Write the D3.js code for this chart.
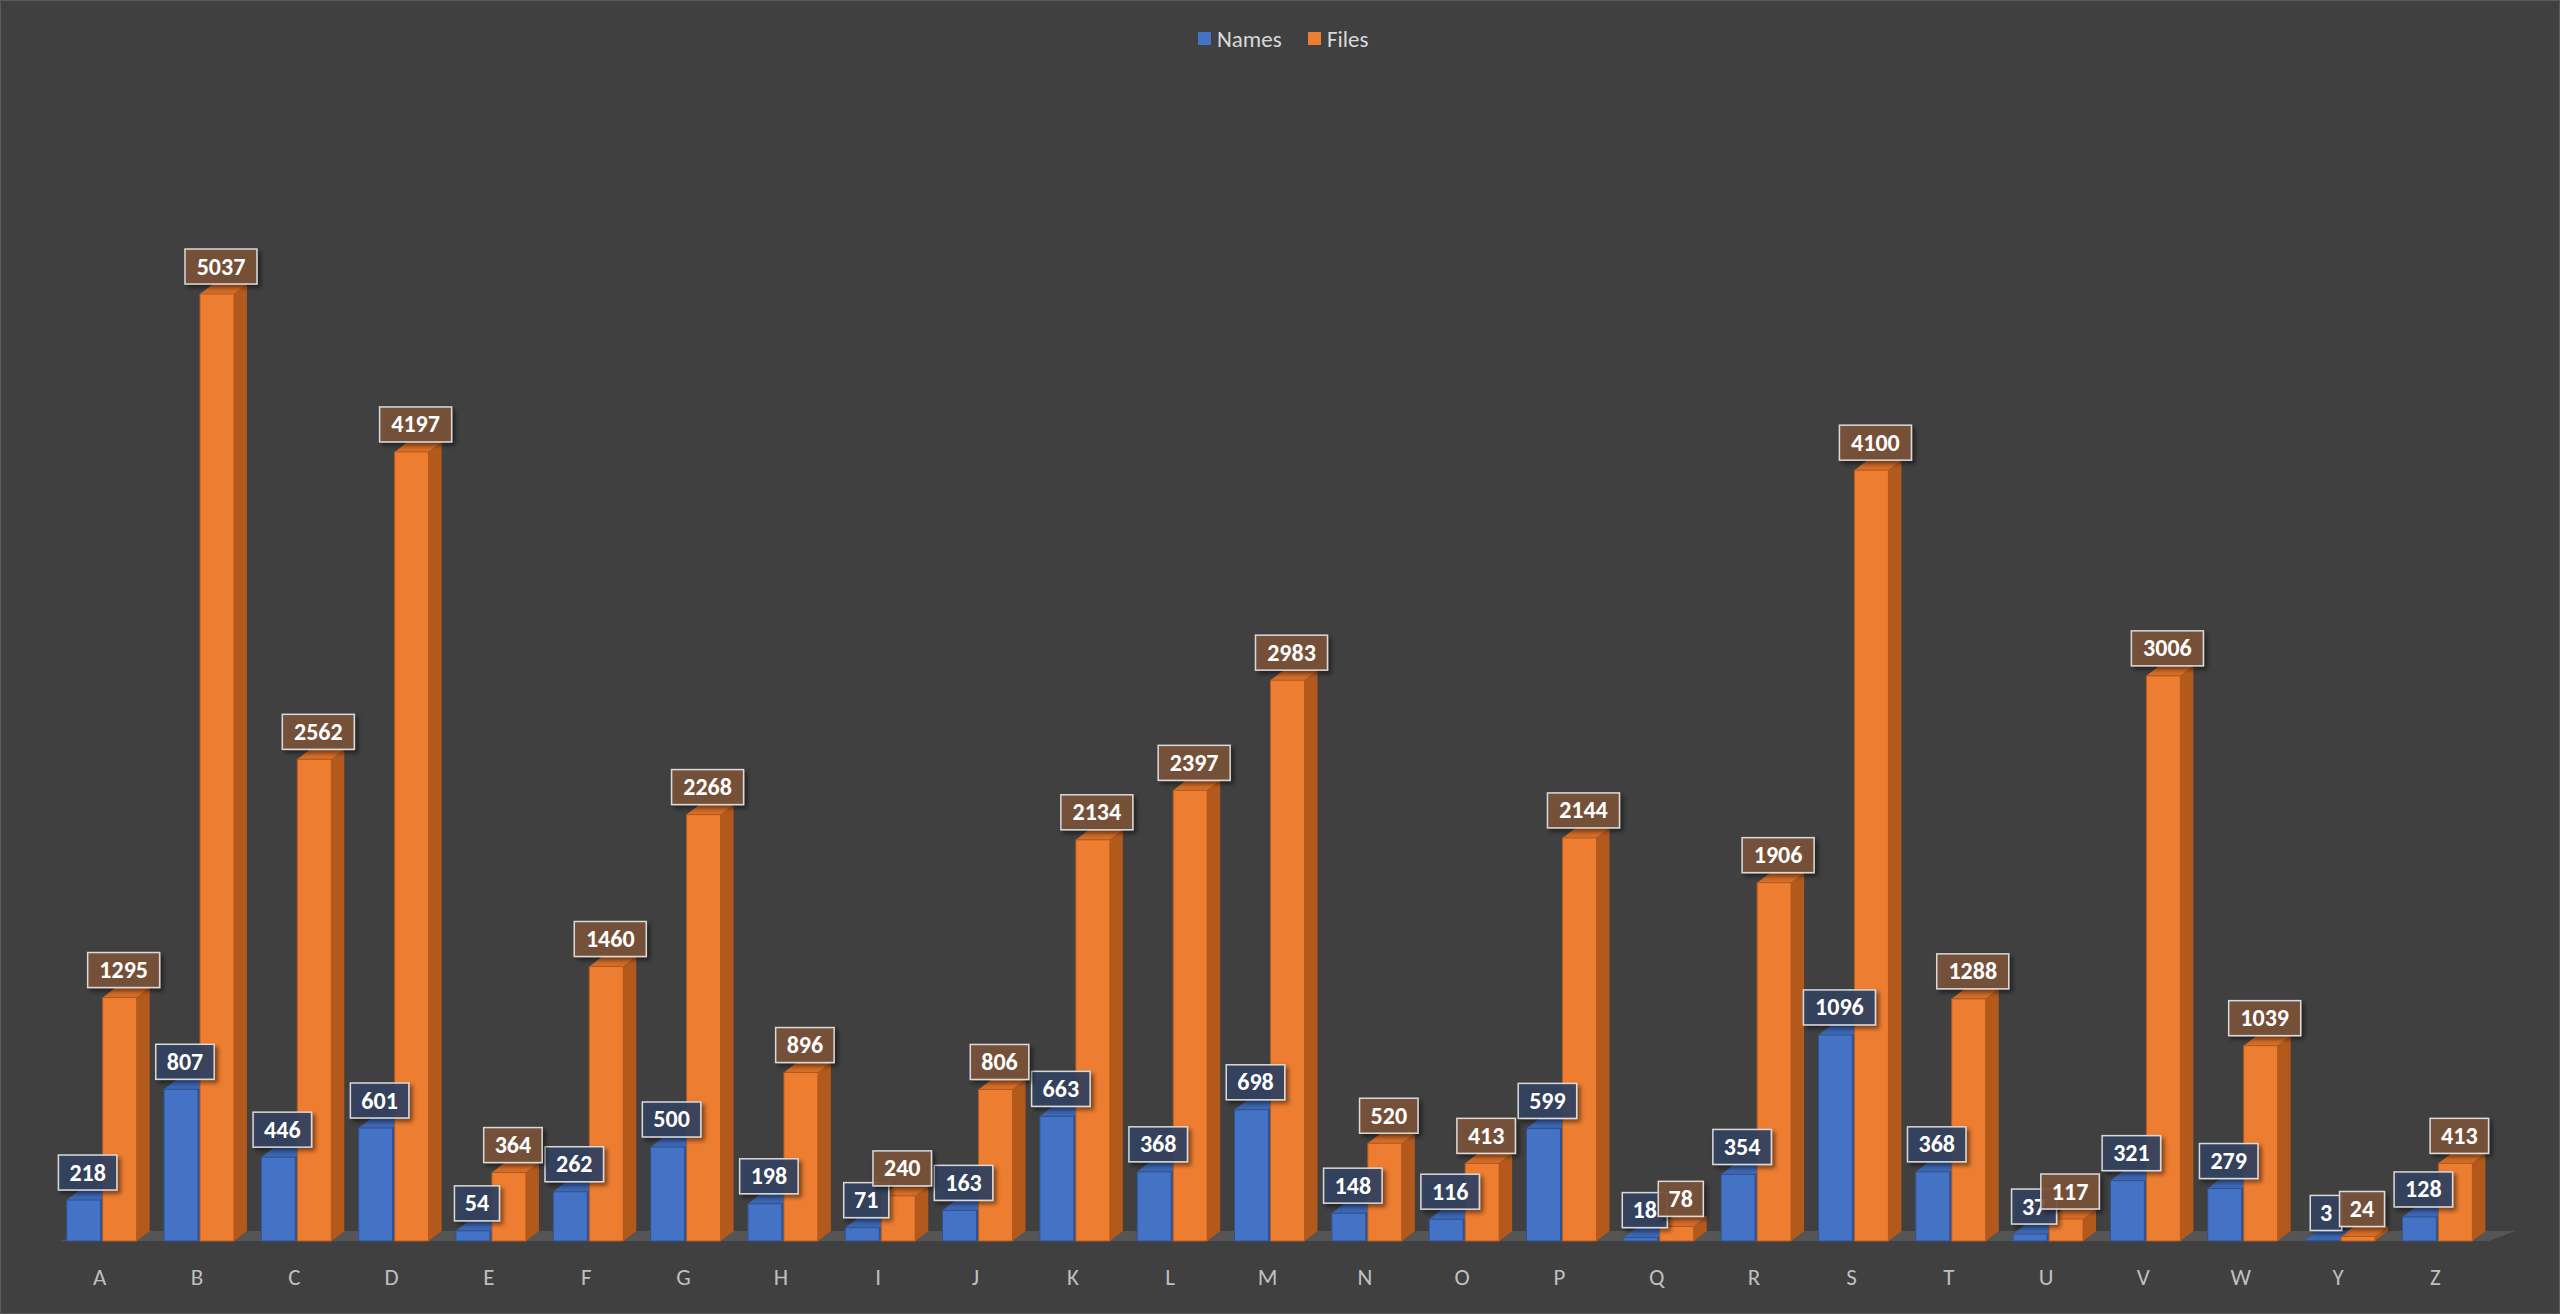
<!DOCTYPE html>
<html><head><meta charset="utf-8">
<script src="https://cdn.jsdelivr.net/npm/d3@7"></script>
<style>body{margin:0;background:#404040;overflow:hidden}</style>
</head><body><svg id="c" width="2560" height="1314"></svg>
<script>
var letters = ["A","B","C","D","E","F","G","H","I","J","K","L","M","N","O","P","Q","R","S","T","U","V","W","Y","Z"];
var names = [218,807,446,601,54,262,500,198,71,163,663,368,698,148,116,599,18,354,1096,368,37,321,279,3,128];
var files = [1295,5037,2562,4197,364,1460,2268,896,240,806,2134,2397,2983,520,413,2144,78,1906,4100,1288,117,3006,1039,24,413];
var series = [
	{name: "Names", values: names, front: "#4472c4", side: "#2e5293", top: "#3d67b4", box: "rgba(52,66,96,0.92)"},
	{name: "Files", values: files, front: "#ed7d31", side: "#b4591c", top: "#d66d27", box: "rgba(122,82,58,0.92)"}
];

var svg = d3.select("#c");
svg.append("rect").attr("x",0.5).attr("y",0.5).attr("width",2559).attr("height",1313)
	.attr("fill","#404040").attr("stroke","#5a5a5a");

var defs = svg.append("defs");
var f = defs.append("filter").attr("id","sh").attr("x","-20%").attr("y","-20%").attr("width","150%").attr("height","150%");
f.append("feDropShadow").attr("dx",3).attr("dy",3).attr("stdDeviation",2).attr("flood-color","#000").attr("flood-opacity",0.5);

var baseY = 1241, depthX = 13, depthY = 10, barW = 34;
var x = d3.scaleBand().domain(letters).range([51, 2484]);
var y = d3.scaleLinear().domain([0, 5037]).range([baseY, 294]);

// floor
svg.append("path")
	.attr("d", "M" + (x.range()[0]+10) + "," + baseY + "L" + (x.range()[1]+5) + "," + baseY +
		"L" + (x.range()[1]+5+depthX*2) + "," + (baseY-depthY) + "L" + (x.range()[0]+10+depthX*2) + "," + (baseY-depthY) + "Z")
	.attr("fill","#555555");

// x labels
svg.selectAll(".xl").data(letters).enter().append("text")
	.attr("x", function(d){ return x(d) + x.bandwidth()/2; })
	.attr("y", 1285).attr("text-anchor","middle")
	.attr("font-family","Calibri, Carlito, 'Liberation Sans', sans-serif").attr("font-size",23)
	.attr("fill","#bfbfbf").text(function(d){ return d; });

var bars = svg.append("g"), labels = svg.append("g");
series.forEach(function(s, si) {
	letters.forEach(function(l, i) {
		var v = s.values[i];
		var x0 = x(l) + x.bandwidth()/2 - barW + si*(barW+2) + 1;
		var yt = y(v);
		bars.append("path").attr("d", "M"+(x0+barW)+","+yt+"l"+depthX+","+(-depthY)+"L"+(x0+barW+depthX)+","+(baseY-depthY)+"L"+(x0+barW)+","+baseY+"Z")
			.attr("fill", s.side);
		bars.append("path").attr("d", "M"+x0+","+yt+"l"+depthX+","+(-depthY)+"l"+barW+",0l"+(-depthX)+","+depthY+"Z")
			.attr("fill", s.top);
		bars.append("rect").attr("x", x0).attr("y", yt).attr("width", barW).attr("height", baseY - yt)
			.attr("fill", s.front).attr("stroke", s.side).attr("stroke-width",1);
		var txt = String(v), bw = txt.length*13.5 + 18, bh = 35;
		var cx = x0 + barW/2 + 4, by = yt - depthY - bh;
		labels.append("rect").attr("x", cx - bw/2).attr("y", by).attr("width", bw).attr("height", bh)
			.attr("fill", s.box).attr("stroke","#d9d9d9").attr("stroke-width",1.5).attr("filter","url(#sh)");
		labels.append("text").attr("x", cx).attr("y", by + bh/2 + 8).attr("text-anchor","middle")
			.attr("font-family","Calibri, Carlito, 'Liberation Sans', sans-serif").attr("font-weight","bold")
			.attr("font-size",24).attr("fill","#ffffff").text(txt);
	});
});

// legend
var lg = svg.append("g").attr("transform","translate(1198,39)");
series.forEach(function(s, i) {
	var ox = i*110;
	lg.append("rect").attr("x", ox).attr("y", -7).attr("width",13).attr("height",13).attr("fill", s.front);
	lg.append("text").attr("x", ox+19).attr("y", 8).attr("font-family","Calibri, Carlito, 'Liberation Sans', sans-serif")
		.attr("font-size",23).attr("fill","#d9d9d9").text(s.name);
});
</script></body></html>
